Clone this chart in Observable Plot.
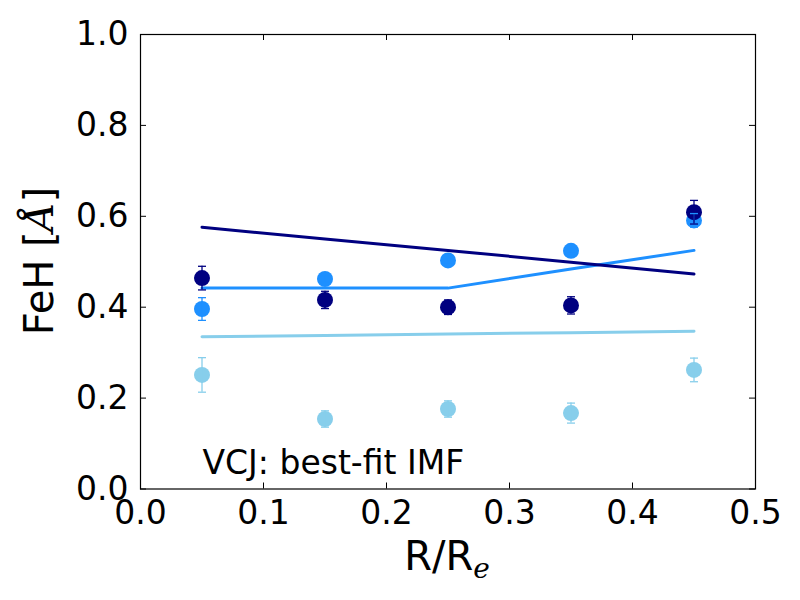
<!DOCTYPE html>
<html>
<head>
<meta charset="utf-8">
<script src="https://cdn.jsdelivr.net/npm/d3@7"></script>
<script src="https://cdn.jsdelivr.net/npm/@observablehq/plot@0.6"></script>
<style>
  html, body { margin: 0; padding: 0; background: #fff; }
  svg { display: block; }
</style>
</head>
<body>
<div id="chart"></div>
<script>
// ---- data ----
const radii = [0.05, 0.15, 0.25, 0.35, 0.45];

const navyVals   = [0.464, 0.416, 0.400, 0.404, 0.609];
const navyErr    = [0.026, 0.019, 0.016, 0.019, 0.026];
const dodgerVals = [0.396, 0.462, 0.503, 0.524, 0.591];
const dodgerErr  = [0.025, 0.006, 0.006, 0.006, 0.015];
const skyVals    = [0.251, 0.154, 0.176, 0.167, 0.262];
const skyErr     = [0.038, 0.018, 0.018, 0.022, 0.026];

const navyModel   = [0.576, 0.550, 0.525, 0.499, 0.473];
const dodgerModel = [0.442, 0.442, 0.442, 0.484, 0.525];
const skyModel    = [0.335, 0.338, 0.341, 0.344, 0.347];

const xTicks = [0.0, 0.1, 0.2, 0.3, 0.4, 0.5];
const yTicks = [0.0, 0.2, 0.4, 0.6, 0.8, 1.0];

const seriesNames  = ["sky", "dodger", "navy"];
const seriesColors = {navy: "#000080", dodger: "#1E90FF", sky: "#87CEEB"};
const annotation = "VCJ: best-fit IMF";

// ---- tables ----
const valsBy = {navy: navyVals, dodger: dodgerVals, sky: skyVals};
const errBy = {navy: navyErr, dodger: dodgerErr, sky: skyErr};
const modelBy = {navy: navyModel, dodger: dodgerModel, sky: skyModel};

const points = seriesNames.flatMap(s => radii.map((r, i) => ({
  s, r, v: valsBy[s][i], lo: valsBy[s][i] - errBy[s][i], hi: valsBy[s][i] + errBy[s][i]
})));
const models = seriesNames.flatMap(s => radii.map((r, i) => ({s, r, v: modelBy[s][i]})));

// ---- layout ----
const W = 800, H = 600;
const mL = 140, mR = 45, mT = 34, mB = 111.5;
const fw = W - mL - mR, fh = H - mT - mB;
const tickLen = 6;
const tickFont = 33;

const capSymbol = {
  draw(ctx, size) {
    const w = Math.sqrt(size / Math.PI);
    ctx.moveTo(-w, 0);
    ctx.lineTo(w, 0);
  }
};

const color = d => seriesColors[d.s];

const chart = Plot.plot({
  width: W, height: H,
  marginLeft: mL, marginRight: mR, marginTop: mT, marginBottom: mB,
  style: {fontFamily: "DejaVu Sans", fontSize: tickFont + "px", background: "#fff", color: "#000"},
  x: {domain: [0, 0.5]},
  y: {domain: [0, 1]},
  marks: [
    // model lines
    ...seriesNames.map(s => Plot.line(models.filter(d => d.s === s), {
      x: "r", y: "v", stroke: seriesColors[s], strokeWidth: 3
    })),
    // data dots
    ...["sky", "dodger", "navy"].map(s => Plot.dot(points.filter(d => d.s === s), {
      x: "r", y: "v", r: 8, fill: seriesColors[s], stroke: "none"
    })),
    // error bars
    Plot.ruleX(points, {x: "r", y1: "lo", y2: "hi", stroke: color, strokeWidth: 1.3}),
    Plot.dot(points, {x: "r", y: "lo", symbol: capSymbol, r: 4, stroke: color, fill: "none", strokeWidth: 1.3}),
    Plot.dot(points, {x: "r", y: "hi", symbol: capSymbol, r: 4, stroke: color, fill: "none", strokeWidth: 1.3}),
    // inward ticks
    Plot.tickX(xTicks, {x: d => d, insetTop: fh - tickLen, stroke: "#000"}),
    Plot.tickX(xTicks, {x: d => d, insetBottom: fh - tickLen, stroke: "#000"}),
    Plot.tickY(yTicks, {y: d => d, insetRight: fw - tickLen, stroke: "#000"}),
    Plot.tickY(yTicks, {y: d => d, insetLeft: fw - tickLen, stroke: "#000"}),
    Plot.frame({stroke: "#000", strokeWidth: 1.2}),
    Plot.axisX({ticks: xTicks, tickSize: 0, tickPadding: 12, tickFormat: d3.format(".1f"), label: null, fontSize: tickFont}),
    Plot.axisY({ticks: yTicks, tickSize: 0, tickPadding: 12, tickFormat: d3.format(".1f"), label: null, fontSize: tickFont}),
    Plot.text([annotation], {frameAnchor: "bottom-left", text: d => d, dx: 62, dy: -15,
      textAnchor: "start", lineAnchor: "bottom", fontSize: 33, fill: "#000"})
  ]
});

const svg = d3.select(chart);
svg.selectAll("[aria-label='x-axis tick label'] text, [aria-label='y-axis tick label'] text")
  .attr("font-size", tickFont);
// x label
const xl = svg.append("text")
  .attr("x", 447).attr("y", 570)
  .attr("text-anchor", "middle")
  .attr("font-family", "DejaVu Sans").attr("font-size", 40).attr("fill", "#000");
xl.append("tspan").text("R/R");
xl.append("tspan").attr("font-family", "DejaVu Serif").attr("font-style", "italic")
  .attr("font-size", 28).attr("dy", 8).text("e");
// y label
const yl = svg.append("text")
  .attr("transform", "translate(53,261) rotate(-90)")
  .attr("text-anchor", "middle")
  .attr("font-family", "DejaVu Sans").attr("font-size", 40).attr("fill", "#000");
yl.append("tspan").text("FeH [");
yl.append("tspan").attr("font-family", "DejaVu Serif").attr("font-style", "italic").text("Å");
yl.append("tspan").text("]");

document.getElementById("chart").appendChild(chart);
</script>
</body>
</html>
